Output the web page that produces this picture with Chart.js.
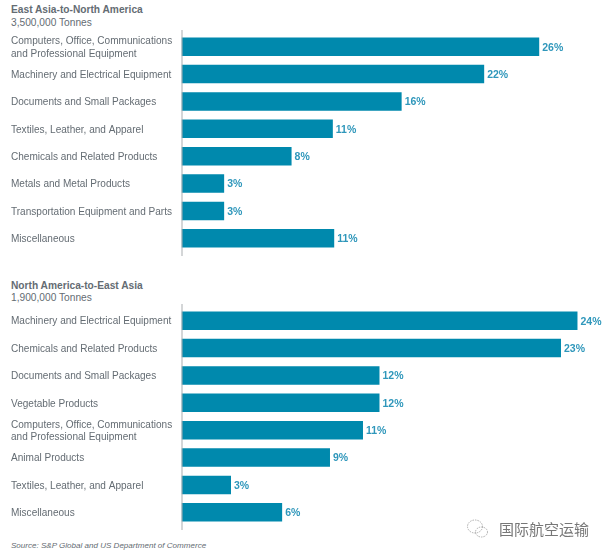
<!DOCTYPE html>
<html><head><meta charset="utf-8">
<script src="https://cdn.jsdelivr.net/npm/chart.js@4"></script>
<style>
html,body{margin:0;padding:0;background:#fff;width:608px;height:556px;overflow:hidden}
body{position:relative;font-family:"Liberation Sans",sans-serif;color:#646c73}
canvas{position:absolute;left:0}
.t{position:absolute;left:11px;font-size:10.2px;line-height:12px;white-space:nowrap}
.b{font-weight:bold}
</style></head><body>
<div class="t b" style="top:4px">East Asia-to-North America</div>
<div class="t" style="top:17px">3,500,000 Tonnes</div>
<canvas id="c1" style="top:30px"></canvas>
<div class="t b" style="top:280px">North America-to-East Asia</div>
<div class="t" style="top:292px">1,900,000 Tonnes</div>
<canvas id="c2" style="top:304px"></canvas>
<div class="t" style="top:540px;font-size:8.05px;font-style:italic">Source: S&amp;P Global and US Department of Commerce</div>
<svg style="position:absolute;left:466px;top:518px" width="24" height="24" fill="none" stroke="#9a9a9a" stroke-width="0.8" stroke-dasharray="1.5 1">
<ellipse cx="9" cy="8.5" rx="7.5" ry="6.5"/><ellipse cx="15.5" cy="14" rx="6" ry="5"/></svg>
<div style="position:absolute;left:499px;top:520px;font:15px/18px 'Noto Sans CJK SC';color:#777;white-space:nowrap">国际航空运输</div>
<script>
const categoriesA=[["Computers, Office, Communications","and Professional Equipment"],"Machinery and Electrical Equipment","Documents and Small Packages","Textiles, Leather, and Apparel","Chemicals and Related Products","Metals and Metal Products","Transportation Equipment and Parts","Miscellaneous"];
const valuesA=[26,22,16,11,8,3.1,3.1,11.1];
const categoriesB=["Machinery and Electrical Equipment","Chemicals and Related Products","Documents and Small Packages","Vegetable Products",["Computers, Office, Communications","and Professional Equipment"],"Animal Products","Textiles, Leather, and Apparel","Miscellaneous"];
const valuesB=[24,23,12,12,11,9,3,6.1];
const axisMaxA=31, axisMaxB=25.85;

const decor={id:'decor',afterDatasetsDraw(ch){
  const {ctx,chartArea:a}=ch, m=ch.getDatasetMeta(0), d=ch.data.datasets[0].data;
  ctx.save();
  ctx.strokeStyle='#a9adb0';ctx.lineWidth=1;
  ctx.beginPath();ctx.moveTo(a.left+.5,a.top-3);ctx.lineTo(a.left+.5,a.bottom+4);ctx.stroke();
  ctx.fillStyle='#2f97bb';ctx.font='bold 10.5px "Liberation Sans"';ctx.textBaseline='middle';
  m.data.forEach((b,i)=>ctx.fillText(Math.round(d[i])+'%',b.x+3,b.y+1));
  ctx.restore();
}};
function draw(id,labels,values,max){
  const el=document.getElementById(id);
  new Chart(el,{type:'bar',plugins:[decor],
    data:{labels,datasets:[{data:values,backgroundColor:'#0089ad',barPercentage:0.68,categoryPercentage:1}]},
    options:{indexAxis:'y',responsive:false,animation:false,devicePixelRatio:1,
      layout:{autoPadding:false,padding:{left:11,top:3,bottom:4,right:0}},
      plugins:{legend:{display:false},tooltip:{enabled:false}},
      scales:{
        x:{display:false,min:0,max},
        y:{afterFit(s){s.width=170.5;s.paddingTop=0;s.paddingBottom=0},grid:{display:false},border:{display:false},
           ticks:{crossAlign:'far',color:'#646c73',autoSkip:false,padding:0,labelOffset:1,font:{family:'"Liberation Sans"',size:10.05,lineHeight:1.25}}}
      }}});
}
[['c1',226],['c2',226]].forEach(([i,h])=>{const e=document.getElementById(i);e.width=608;e.height=h;e.style.width='608px';e.style.height=h+'px';});
draw('c1',categoriesA,valuesA,axisMaxA);
draw('c2',categoriesB,valuesB,axisMaxB);
</script>
</body></html>
